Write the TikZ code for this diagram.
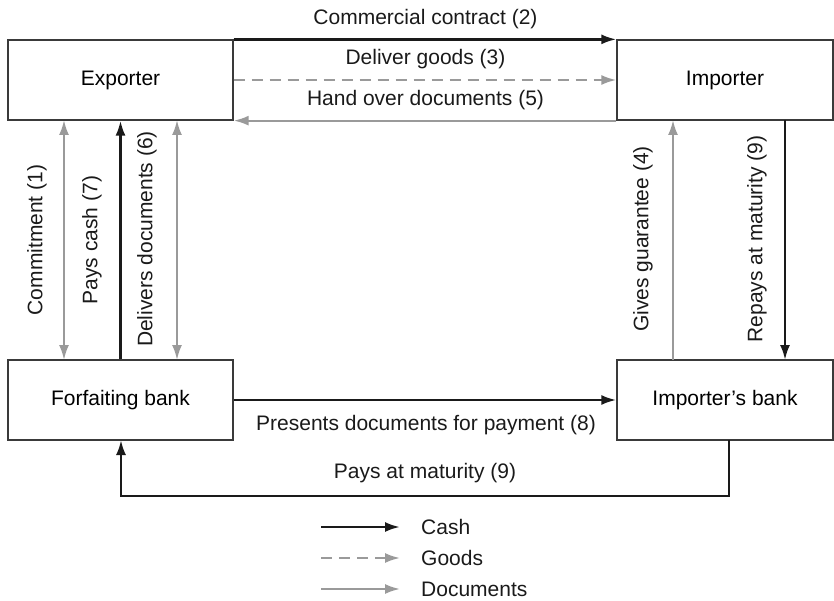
\documentclass[tikz,border=0pt]{standalone}
\usepackage{fontspec}
\setmainfont{Liberation Sans}
\usetikzlibrary{arrows.meta}
\definecolor{cashc}{HTML}{1A1A1A}
\definecolor{docc}{HTML}{9A9A9A}
\definecolor{boxc}{HTML}{3A3A3A}
\begin{document}
\begin{tikzpicture}[x=1pt,y=-1pt,
  font=\fontsize{21}{25}\selectfont,
  party/.style={draw=boxc,line width=1.3pt,rectangle,inner sep=0pt,minimum height=80pt},
  cash/.style={draw=cashc,line width=2.5pt,-{Latex[length=15pt,width=10pt]}},
  goods/.style={draw=docc,line width=2.2pt,dash pattern=on 11pt off 7pt,-{Latex[length=15pt,width=10pt]}},
  docs/.style={draw=docc,line width=2.2pt,-{Latex[length=15pt,width=10pt]}},
  docs2/.style={draw=docc,line width=2.2pt,{Latex[length=15pt,width=10pt]}-{Latex[length=15pt,width=10pt]}},
  lbl/.style={inner sep=0pt,text=cashc},
  vlbl/.style={inner sep=0pt,text=cashc,rotate=90}]
\useasboundingbox (0,0) rectangle (834,601);

\node[party,minimum width=225pt] (exp) at (120.5,80) {Exporter};
\node[party,minimum width=216pt] (imp) at (725,80) {Importer};
\node[party,minimum width=225pt] (forf) at (120.5,400) {Forfaiting bank};
\node[party,minimum width=216pt] (ibank) at (725,400) {Importer’s bank};

% top flows
\draw[cash] (exp.north east) -- (imp.north west);
\draw[goods] (exp.east) -- (imp.west);
\draw[docs] (imp.south west) -- (exp.south east);
\node[lbl] (l2) at (425.5,19) {Commercial contract (2)};
\node[lbl] (l3) at (425.5,59) {Deliver goods (3)};
\node[lbl] (l5) at (425.5,100) {Hand over documents (5)};

% left verticals
\coordinate (c1t) at (64,120);  \coordinate (c1b) at (64,360);
\coordinate (c6t) at (177,120); \coordinate (c6b) at (177,360);
\draw[docs2] (c1b) -- (c1t);
\draw[cash] (forf.north) -- (exp.south);
\draw[docs2] (c6b) -- (c6t);
\node[vlbl] (l1) at (37,240) {Commitment (1)};
\node[vlbl] (l7) at (92,240) {Pays cash (7)};
\node[vlbl] (l6) at (147,239) {Delivers documents (6)};

% right verticals
\coordinate (g4t) at (673,120); \coordinate (g4b) at (673,360);
\coordinate (r9t) at (785,120); \coordinate (r9b) at (785,360);
\draw[docs] (g4b) -- (g4t);
\draw[cash] (r9t) -- (r9b);
\node[vlbl] (l4) at (643,239) {Gives guarantee (4)};
\node[vlbl] (l9) at (757,239) {Repays at maturity (9)};

% bottom flows
\draw[cash] (forf.east) -- (ibank.west);
\node[lbl] (l8) at (426,425) {Presents documents for payment (8)};
\coordinate (p9a) at (729,440);
\coordinate (p9b) at (729,496);
\coordinate (p9c) at (121,496);
\coordinate (p9d) at (121,440);
\draw[cash] (p9a) -- (p9b) -- (p9c) -- (p9d);
\node[lbl] (l9b) at (425,473) {Pays at maturity (9)};

% legend
\coordinate (k1a) at (321,527); \coordinate (k1b) at (400,527);
\coordinate (k2a) at (321,558); \coordinate (k2b) at (400,558);
\coordinate (k3a) at (321,589); \coordinate (k3b) at (400,589);
\draw[cash] (k1a) -- (k1b);
\draw[goods] (k2a) -- (k2b);
\draw[docs] (k3a) -- (k3b);
\node[lbl,anchor=west] (kc) at (421,527) {Cash};
\node[lbl,anchor=west] (kg) at (421,558) {Goods};
\node[lbl,anchor=west] (kd) at (421,589) {Documents};
\end{tikzpicture}
\end{document}
